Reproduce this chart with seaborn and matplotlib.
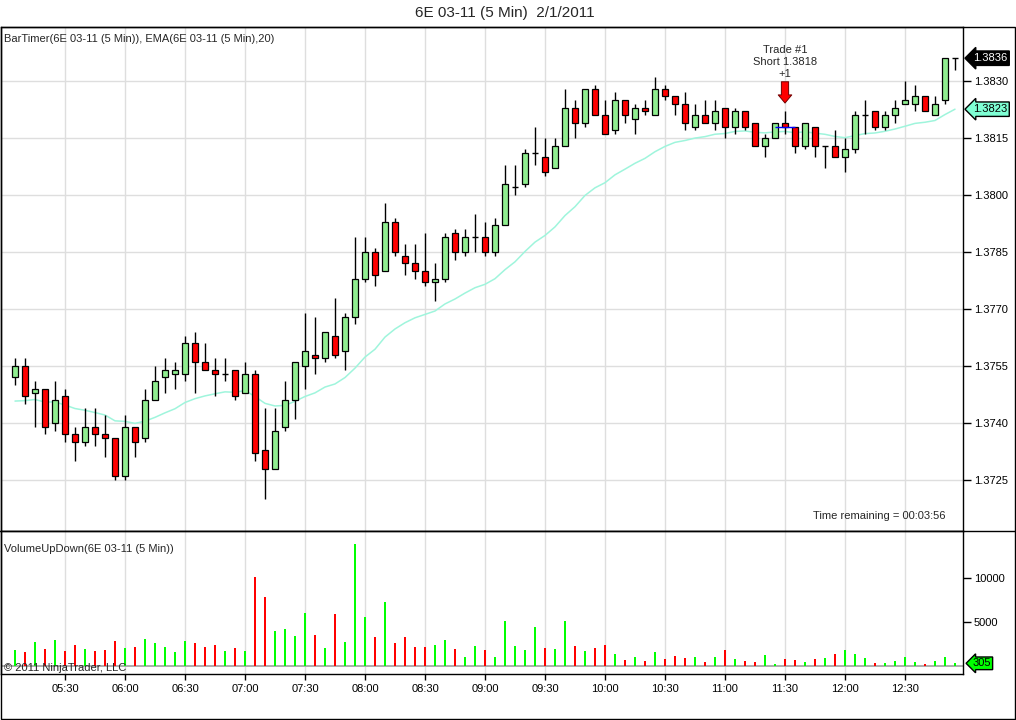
import numpy as np
import pandas as pd
import matplotlib
matplotlib.use('Agg')
import matplotlib.pyplot as plt
import seaborn as sns
from matplotlib.patches import Rectangle
from matplotlib.lines import Line2D

# 5 minute bars of 6E 03-11, 2/1/2011, 05:05 .. 12:55
opens = [1.3752, 1.3755, 1.3748, 1.3749, 1.3740, 1.3747, 1.3737, 1.3735, 1.3739, 1.3737,
         1.3736, 1.3726, 1.3739, 1.3736, 1.3746, 1.3752, 1.3753, 1.3753, 1.3761, 1.3756,
         1.3754, 1.3753, 1.3754, 1.3748, 1.3753, 1.3733, 1.3728, 1.3739, 1.3746, 1.3755,
         1.3758, 1.3757, 1.3763, 1.3759, 1.3768, 1.3778, 1.3785, 1.3780, 1.3793, 1.3784,
         1.3782, 1.3780, 1.3777, 1.3778, 1.3790, 1.3785, 1.3789, 1.3789, 1.3785, 1.3792,
         1.3802, 1.3803, 1.3811, 1.3810, 1.3807, 1.3813, 1.3823, 1.3819, 1.3828, 1.3821,
         1.3817, 1.3825, 1.3820, 1.3823, 1.3821, 1.3828, 1.3826, 1.3824, 1.3818, 1.3821,
         1.3819, 1.3823, 1.3818, 1.3822, 1.3819, 1.3813, 1.3815, 1.3819, 1.3818, 1.3813,
         1.3818, 1.3813, 1.3813, 1.3810, 1.3812, 1.3821, 1.3822, 1.3818, 1.3821, 1.3824,
         1.3824, 1.3826, 1.3821, 1.3825, 1.3836]
highs = [1.3757, 1.3757, 1.3751, 1.3749, 1.3751, 1.3749, 1.3739, 1.3744, 1.3744, 1.3742,
         1.3736, 1.3742, 1.3739, 1.3749, 1.3755, 1.3757, 1.3756, 1.3763, 1.3764, 1.3761,
         1.3757, 1.3757, 1.3754, 1.3756, 1.3754, 1.3744, 1.3744, 1.3751, 1.3756, 1.3769,
         1.3768, 1.3764, 1.3773, 1.3769, 1.3789, 1.3789, 1.3786, 1.3798, 1.3794, 1.3787,
         1.3787, 1.3790, 1.3782, 1.3790, 1.3791, 1.3791, 1.3795, 1.3793, 1.3794, 1.3808,
         1.3808, 1.3812, 1.3818, 1.3815, 1.3815, 1.3828, 1.3825, 1.3828, 1.3829, 1.3825,
         1.3827, 1.3825, 1.3824, 1.3825, 1.3831, 1.3829, 1.3826, 1.3827, 1.3824, 1.3825,
         1.3825, 1.3823, 1.3823, 1.3822, 1.3819, 1.3816, 1.3819, 1.3822, 1.3818, 1.3819,
         1.3818, 1.3813, 1.3817, 1.3815, 1.3822, 1.3825, 1.3822, 1.3822, 1.3825, 1.3830,
         1.3829, 1.3826, 1.3826, 1.3836, 1.3836]
lows = [1.3750, 1.3745, 1.3739, 1.3737, 1.3738, 1.3735, 1.3730, 1.3734, 1.3734, 1.3731,
        1.3725, 1.3725, 1.3731, 1.3735, 1.3746, 1.3748, 1.3749, 1.3751, 1.3748, 1.3754,
        1.3747, 1.3751, 1.3746, 1.3748, 1.3730, 1.3720, 1.3728, 1.3738, 1.3741, 1.3749,
        1.3753, 1.3756, 1.3757, 1.3754, 1.3766, 1.3777, 1.3776, 1.3780, 1.3784, 1.3779,
        1.3778, 1.3776, 1.3772, 1.3777, 1.3783, 1.3784, 1.3785, 1.3784, 1.3784, 1.3792,
        1.3800, 1.3802, 1.3808, 1.3805, 1.3807, 1.3813, 1.3815, 1.3818, 1.3821, 1.3816,
        1.3816, 1.3819, 1.3816, 1.3821, 1.3821, 1.3825, 1.3821, 1.3817, 1.3817, 1.3819,
        1.3817, 1.3815, 1.3816, 1.3817, 1.3813, 1.3810, 1.3815, 1.3816, 1.3811, 1.3812,
        1.3810, 1.3807, 1.3810, 1.3806, 1.3811, 1.3816, 1.3817, 1.3817, 1.3819, 1.3824,
        1.3822, 1.3822, 1.3821, 1.3824, 1.3833]
closes = [1.3755, 1.3747, 1.3749, 1.3739, 1.3746, 1.3737, 1.3735, 1.3739, 1.3737, 1.3736,
          1.3726, 1.3739, 1.3735, 1.3746, 1.3751, 1.3754, 1.3754, 1.3761, 1.3756, 1.3754,
          1.3753, 1.3753, 1.3747, 1.3753, 1.3732, 1.3728, 1.3738, 1.3746, 1.3756, 1.3759,
          1.3757, 1.3764, 1.3758, 1.3768, 1.3778, 1.3785, 1.3779, 1.3793, 1.3785, 1.3782,
          1.3780, 1.3777, 1.3778, 1.3789, 1.3785, 1.3789, 1.3789, 1.3785, 1.3792, 1.3803,
          1.3802, 1.3811, 1.3811, 1.3806, 1.3813, 1.3823, 1.3819, 1.3828, 1.3821, 1.3816,
          1.3825, 1.3821, 1.3823, 1.3822, 1.3828, 1.3826, 1.3824, 1.3819, 1.3821, 1.3819,
          1.3822, 1.3818, 1.3822, 1.3818, 1.3813, 1.3815, 1.3819, 1.3818, 1.3813, 1.3819,
          1.3813, 1.3813, 1.3810, 1.3812, 1.3821, 1.3821, 1.3818, 1.3821, 1.3823, 1.3825,
          1.3826, 1.3822, 1.3824, 1.3836, 1.3836]
volumes = [1860, 1590, 2770, 1970, 2990, 1740, 2430, 1970, 1740, 1860,
           2880, 2090, 2200, 3110, 2650, 2200, 1630, 2880, 2650, 2200,
           2430, 1740, 2090, 1740, 10160, 7880, 4020, 4250, 3450, 6060,
           3560, 2090, 5950, 2770, 13910, 5610, 3340, 7320, 2650, 3340,
           2200, 2200, 2430, 2990, 1970, 1060, 2310, 1820, 1020, 5120,
           2270, 1820, 4430, 2050, 1930, 5120, 2270, 1710, 2050, 2390,
           1360, 680, 1020, 570, 1590, 800, 1140, 910, 1020, 460,
           1020, 1820, 800, 570, 460, 1250, 230, 800, 680, 460,
           800, 910, 1360, 1820, 1360, 910, 340, 340, 570, 1020,
           460, 230, 570, 1020, 305]
time_ticks = ['05:30', '06:00', '06:30', '07:00', '07:30', '08:00', '08:30',
              '09:00', '09:30', '10:00', '10:30', '11:00', '11:30', '12:00', '12:30']
price_ticks = [1.3725, 1.3740, 1.3755, 1.3770, 1.3785, 1.3800, 1.3815, 1.3830]
ema_seed = 1.37448  # EMA value just before the first bar
trade_bar = '11:30'
trade_price = 1.3818

bar_times = pd.date_range('2011-02-01 05:05', periods=len(closes), freq='5min').strftime('%H:%M')
df = pd.DataFrame({'t': bar_times, 'open': opens, 'high': highs, 'low': lows,
                   'close': closes, 'volume': volumes})
df['i'] = np.arange(len(df))
df['dir'] = np.where(df['close'] >= df['open'], 'up', 'down')
df['ema'] = pd.Series([ema_seed] + closes).ewm(span=20, adjust=False).mean().iloc[1:].values

sns.set_style('white')
plt.rcParams['font.family'] = ['Liberation Sans', 'DejaVu Sans']

W, H = 1016, 720
fig = plt.figure(figsize=(W / 100, H / 100), dpi=100)


def box(x0, y0, x1, y1):
    return [x0 / W, 1 - y1 / H, (x1 - x0) / W, (y1 - y0) / H]


ax = fig.add_axes(box(1, 27, 962.7, 531))
vax = fig.add_axes(box(1, 531, 962.7, 674))

xmin, xmax = -1.4, 94.77
tick_pos = [int(np.where(bar_times == t)[0][0]) for t in time_ticks]
grid_c = '#dedede'

# price panel
up = df[df['close'] > df['open']]
down = df[df['close'] < df['open']]
flat = df[df['close'] == df['open']]
ax.vlines(df['i'], df['low'], df['high'], color='black', lw=1, zorder=3)
ax.bar(up['i'], up['close'] - up['open'], bottom=up['open'], width=0.62,
       color='#90ee90', edgecolor='black', lw=0.9, zorder=4)
ax.bar(down['i'], down['open'] - down['close'], bottom=down['close'], width=0.62,
       color='#ff0000', edgecolor='black', lw=0.9, zorder=4)
ax.hlines(flat['open'], flat['i'] - 0.31, flat['i'] + 0.31, color='black', lw=1, zorder=4)
sns.lineplot(data=df, x='i', y='ema', ax=ax, color='#9ff5dc', lw=1.1, zorder=2)

ax.set_xlim(xmin, xmax)
ax.set_ylim(1.371158, 1.384421)
ax.set_xticks(tick_pos)
ax.set_yticks(price_ticks)
ax.set_yticklabels([f'{p:.4f}' for p in price_ticks])
ax.yaxis.tick_right()
ax.tick_params(axis='x', length=0, labelbottom=False)
ax.tick_params(axis='y', direction='out', length=6, width=1, pad=2, labelsize=8,
               right=True, colors='black')
ax.grid(True, color=grid_c, lw=1)
ax.set_axisbelow(True)
ax.set_xlabel('')
ax.set_ylabel('')
for s in ax.spines.values():
    s.set_color('black')
    s.set_linewidth(1)

ax.text(0.003, 0.976, 'BarTimer(6E 03-11 (5 Min)), EMA(6E 03-11 (5 Min),20)',
        transform=ax.transAxes, fontsize=8, va='center', ha='left')
ax.text(0.9826, 0.03, 'Time remaining = 00:03:56', transform=ax.transAxes,
        fontsize=8, va='center', ha='right')

# trade marker
tb = int(np.where(bar_times == trade_bar)[0][0])
ax.text(tb, 1.38350, 'Trade #1\nShort 1.3818\n+1', ha='center', va='center',
        fontsize=8, linespacing=1.25)
ax.annotate('', xy=(tb, 1.38242), xytext=(tb, 1.38298),
            arrowprops=dict(arrowstyle='simple,head_length=0.45,head_width=0.75,tail_width=0.4',
                            fc='red', ec='#700000', lw=0.7, shrinkA=0, shrinkB=0,
                            mutation_scale=13), zorder=6)
ax.hlines(trade_price, tb - 1, tb + 1, color='blue', lw=1, zorder=5)

# value tags on the right
ytr = ax.get_yaxis_transform()
ax.text(1.0105, df['close'].iloc[-1], f"{df['close'].iloc[-1]:.4f}", transform=ytr,
        fontsize=8, color='white', va='center', ha='left', clip_on=False,
        bbox=dict(boxstyle='larrow,pad=0.2', fc='black', ec='black', lw=1))
ax.text(1.0105, df['ema'].iloc[-1], f"{df['ema'].iloc[-1]:.4f}", transform=ytr,
        fontsize=8, color='black', va='center', ha='left', clip_on=False,
        bbox=dict(boxstyle='larrow,pad=0.2', fc='#7fffd4', ec='black', lw=1))

# volume panel
sns.barplot(data=df, x='i', y='volume', hue='dir', native_scale=True, dodge=False,
            palette={'up': '#00ff00', 'down': '#ff0000'}, width=0.28, errorbar=None,
            saturation=1, legend=False, ax=vax, zorder=3, linewidth=0)
vax.axhline(0, color='#a0a0a0', lw=1.2, zorder=2)
vax.set_xlim(xmin, xmax)
vax.set_ylim(-909, 15336)
vax.set_xticks(tick_pos)
vax.set_xticklabels(time_ticks)
vax.set_yticks([5000, 10000])
vax.set_yticklabels(['5000', '10000'])
vax.yaxis.tick_right()
vax.tick_params(axis='x', direction='out', length=4, width=1, pad=3, labelsize=8,
                bottom=True, colors='black')
vax.tick_params(axis='y', direction='out', length=6, width=1, pad=2, labelsize=8,
                right=True, colors='black')
vax.grid(True, axis='x', color=grid_c, lw=1)
vax.grid(False, axis='y')
vax.set_axisbelow(True)
vax.set_xlabel('')
vax.set_ylabel('')
for s in vax.spines.values():
    s.set_color('black')
    s.set_linewidth(1)

vax.text(0.003, 0.874, 'VolumeUpDown(6E 03-11 (5 Min))', transform=vax.transAxes,
         fontsize=8, va='center', ha='left')
vax.text(0.003, 0.045, '\u00a9 2011 NinjaTrader, LLC', transform=vax.transAxes,
         fontsize=8, va='center', ha='left', zorder=5)
vtr = vax.get_yaxis_transform()
vax.text(1.0105, volumes[-1], f'{volumes[-1]}', transform=vtr, fontsize=8,
         color='black', va='center', ha='left', clip_on=False,
         bbox=dict(boxstyle='larrow,pad=0.12', fc='#00ff00', ec='black', lw=1))

# outer frame, panel separator and title
fig.add_artist(Rectangle((0.5 / W, 1 - 719 / H), 1014.5 / W, 692 / H, transform=fig.transFigure,
                         fill=False, ec='black', lw=1))
fig.add_artist(Line2D([0, 1015 / W], [1 - 531 / H, 1 - 531 / H], transform=fig.transFigure,
                      color='black', lw=1))
fig.text(505 / W, 1 - 13 / H, '6E 03-11 (5 Min)  2/1/2011', ha='center', va='center',
         fontsize=11)

fig.savefig('out.png', dpi=100)
